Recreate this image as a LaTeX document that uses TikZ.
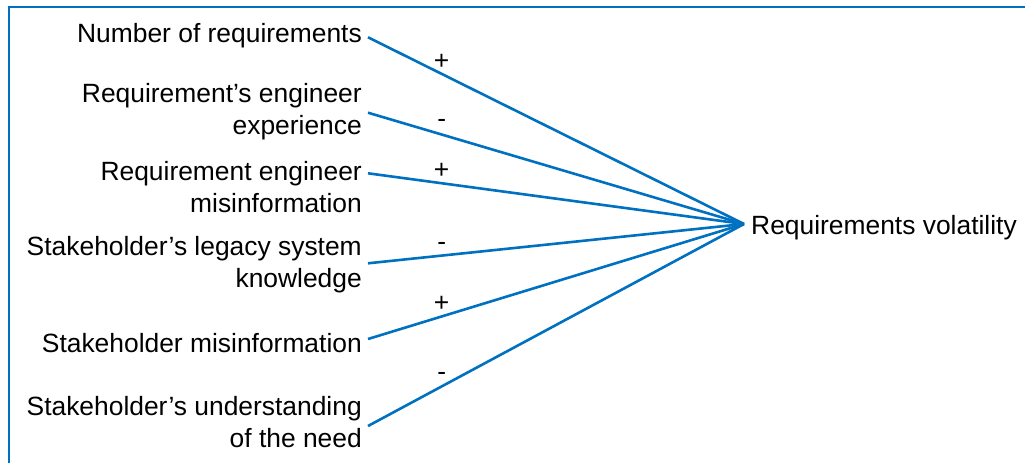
\documentclass[tikz,border=0pt]{standalone}
\usepackage{fontspec}
\setmainfont{Liberation Sans}
\usetikzlibrary{calc}
\definecolor{linkblue}{RGB}{0,112,192}
\begin{document}
\begin{tikzpicture}[x=1pt,y=-1pt,
  txt/.style={font=\fontsize{26.4}{32}\selectfont},
  cause/.style={txt,anchor=east,align=right,inner xsep=6pt,inner ysep=0pt},
  effect/.style={txt,anchor=west,inner xsep=7pt,inner ysep=0pt},
  link/.style={draw=linkblue,line width=2.6pt},
  sign/.style={txt,pos=0.196,inner sep=0pt},
  frame/.style={draw=linkblue,line width=2.6pt}]
\useasboundingbox (0,0) rectangle (1026,463);
\draw[frame] (9,463) -- (9,7) -- (1025,7);
\node[effect] (hub) at (744,227.5) {Requirements volatility};
\node[cause] (c1) at (368,36) {Number of requirements};
\node[cause] (c2) at (368,112) {Requirement’s engineer\\experience};
\node[cause] (c3) at (368,187.5) {Requirement engineer\\misinformation};
\node[cause] (c4) at (368,265) {Stakeholder’s legacy system\\knowledge};
\node[cause] (c5) at (368,343) {Stakeholder misinformation};
\node[cause] (c6) at (368,422) {Stakeholder’s understanding\\of the need};
\coordinate (h) at ($(hub.west)+(0,-3.5)$);
\path[link] ($(c1.east)+(0,1.3)$) -- node[sign,yshift=11.6pt]{+} (h);
\path[link] ($(c2.east)+(0,0.7)$) -- node[sign,yshift=11.2pt]{-} (h);
\path[link] ($(c3.east)+(0,-14.2)$) -- node[sign,yshift=12.5pt]{+} (h);
\path[link] ($(c4.east)+(0,-1.7)$) -- node[sign,yshift=8.9pt]{-} (h);
\path[link] ($(c5.east)+(0,-4)$) -- node[sign,yshift=12.5pt]{+} (h);
\path[link] ($(c6.east)+(0,4)$) -- node[sign,yshift=9.7pt]{-} (h);
\end{tikzpicture}
\end{document}
